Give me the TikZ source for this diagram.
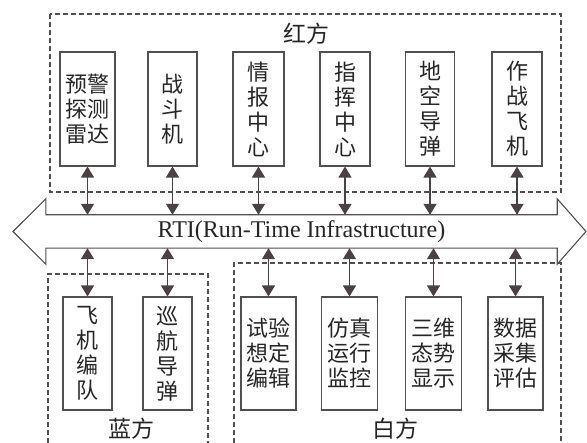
\documentclass[tikz,border=0pt]{standalone}
\usepackage{fontspec}
\setmainfont{Liberation Serif}
\newfontfamily\cjk{Noto Sans CJK SC}
\usetikzlibrary{arrows.meta,calc}
\definecolor{boxgray}{HTML}{505050}
\definecolor{arrgray}{HTML}{4A4242}
\tikzset{
  box/.style={draw=boxgray, line width=1.1pt, inner sep=0pt, minimum height=114pt,
    align=center, font=\cjk\fontsize{22}{25}\selectfont, text=black!85},
  lowbox/.style={box, minimum height=113pt},
  group/.style={draw=boxgray, line width=1.1pt, dash pattern=on 5pt off 3pt},
  grouplabel/.style={font=\cjk\fontsize{23}{26}\selectfont, text=black!85, inner sep=0pt},
  biarrow/.style={draw=arrgray, line width=1.2pt,
    {Triangle[length=11pt,width=13pt]}-{Triangle[length=11pt,width=13pt]}}
}
\begin{document}
\begin{tikzpicture}[x=1pt,y=-1pt]
\useasboundingbox (0,0) rectangle (587,443);
% groups
\draw[group] (50,14) rectangle (561,192);
\draw[group] (48,443) -- (48,274) -- (208,274) -- (208,443);
\draw[group] (234,443) -- (234,263) -- (561,263) -- (561,443);
\node[grouplabel] (red) at (306,34) {红方};
\node[grouplabel] (blue) at (131,429) {蓝方};
\node[grouplabel] (white) at (395,429) {白方};
% RTI bus (shaft is the node, heads drawn from its anchors)
\node[inner sep=0pt, minimum width=511pt, minimum height=33pt,
  font=\fontsize{24}{26}\selectfont, text=black!85] (rti) at (301.5,231.5) {RTI(Run-Time Infrastructure)};
\coordinate (tipR) at (586,231.5);
\coordinate (tipL) at (13,231.5);
\draw[boxgray, line width=1.1pt]
  (rti.north west) -- (rti.north east) -- ($(rti.north east)+(0,-16)$) -- (tipR)
  -- ($(rti.south east)+(0,16)$) -- (rti.south east) -- (rti.south west)
  -- ($(rti.south west)+(0,16)$) -- (tipL) -- ($(rti.north west)+(0,-16)$) -- cycle;
% red boxes
\node[box, minimum width=55pt] (r1) at (87.5,109) {预警\\探测\\雷达};
\node[box, minimum width=49pt] (r2) at (172.5,109) {战\\斗\\机};
\node[box, minimum width=51pt] (r3) at (258.5,109) {情\\报\\中\\心};
\node[box, minimum width=50pt] (r4) at (345,109) {指\\挥\\中\\心};
\node[box, minimum width=49pt] (r5) at (430,109) {地\\空\\导\\弹};
\node[box, minimum width=50pt] (r6) at (517,109) {作\\战\\飞\\机};
% blue boxes
\node[lowbox, minimum width=49pt] (b1) at (87.5,353.5) {飞\\机\\编\\队};
\node[lowbox, minimum width=49pt] (b2) at (167.5,353.5) {巡\\航\\导\\弹};
% white boxes
\node[lowbox, minimum width=55pt] (w1) at (268.5,353.5) {试验\\想定\\编辑};
\node[lowbox, minimum width=56pt] (w2) at (349.5,353.5) {仿真\\运行\\监控};
\node[lowbox, minimum width=56pt] (w3) at (433.5,353.5) {三维\\态势\\显示};
\node[lowbox, minimum width=55pt] (w4) at (515.5,353.5) {数据\\采集\\评估};
% connectors
\foreach \n in {r1,r2,r3,r4,r5,r6}
  \draw[biarrow] (\n.south) -- (\n.south |- rti.north);
\foreach \n in {b1,b2,w1,w2,w3,w4}
  \draw[biarrow] (\n.north) -- (\n.north |- rti.south);
\end{tikzpicture}
\end{document}
